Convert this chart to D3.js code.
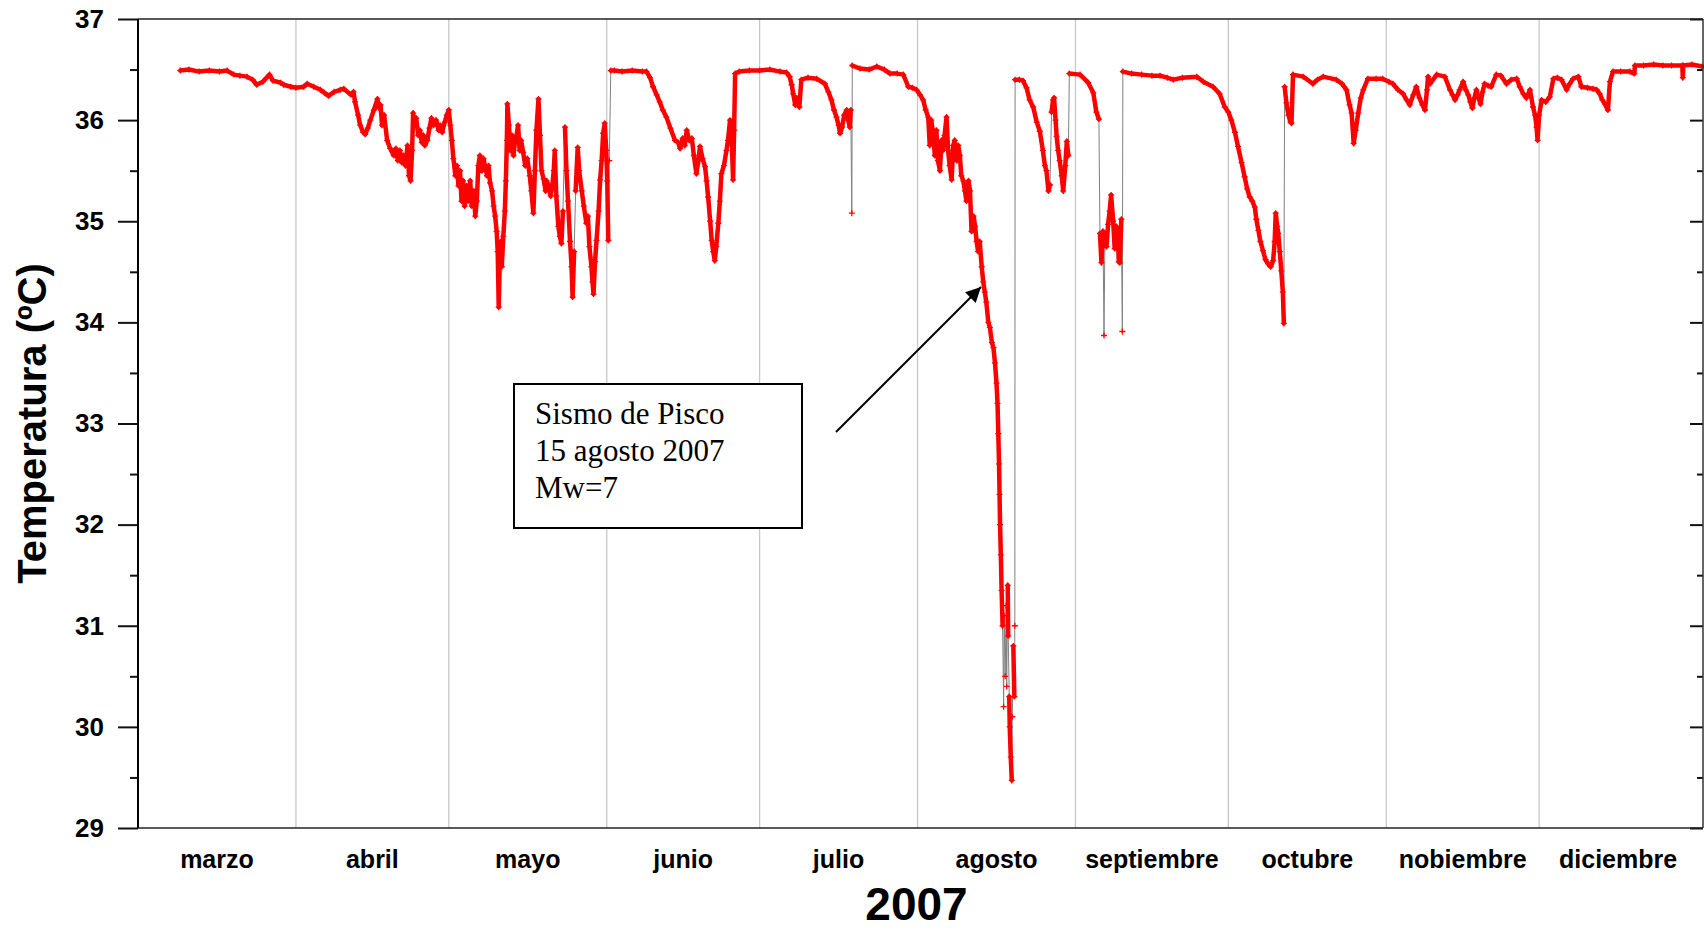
<!DOCTYPE html>
<html>
<head>
<meta charset="utf-8">
<script src="https://cdn.jsdelivr.net/npm/d3@7"></script>
<style>
body { margin: 0; background: #fff; }
svg text { font-family: "Liberation Sans", Arial, Helvetica, sans-serif; font-weight: bold; fill: #000; }
</style>
</head>
<body>
<svg id="chart" width="1704" height="931"></svg>
<script>
// dias transcurridos desde el 1 de marzo de 2007
dias = [8.3,10,12,14,16,17.5,18.8,20,21.4,22.5,23.3,24.5,25.8,26.5,28,28.6,30,
  31,32.5,33.2,34.5,35.8,36.6,37.4,38.5,39.7,40.4,41.8,42.3,42.6,43.2,43.6,44.2,44.6,45.1,45.6,46.3,47,47.3,47.6,47.9,48.3,48.9,49.5,50.2,50.6,51,51.4,51.8,52.1,52.5,52.9,53.2,53.5,53.8,54,54.3,54.6,55,55.3,55.7,56,56.3,56.8,57.2,57.6,58,58.5,59,59.3,59.7,60.2,60.6,
  61,61.3,61.6,61.9,62.3,62.6,62.9,63.2,63.5,63.8,64.1,64.5,64.8,65.2,65.5,65.9,66.2,66.5,66.8,67.1,67.5,67.8,68.1,68.5,68.8,69.1,69.5,69.8,70.1,70.4,70.6,70.8,71,71.2,71.4,71.7,72,72.2,72.4,72.5,72.8,73.1,73.4,73.7,74,74.3,74.6,74.9,75.2,75.6,76,76.4,76.9,77.2,77.6,77.9,78.2,78.6,78.9,79.2,79.6,80,80.2,80.6,81,81.3,81.6,81.8,82.1,82.5,82.8,83.1,83.4,83.8,84.1,84.4,84.8,85.1,85.3,85.6,85.9,86.3,86.6,87.1,87.5,88,88.3,88.6,89,89.2,89.4,89.7,90,90.4,90.7,91,91.3,91.6,91.9,92.1,92.3,92.5,92.8,
  93.5,95,97,99,99.8,100.5,101.1,101.8,102.4,103,103.7,104.5,105.4,106,106.4,106.9,107.3,107.7,108.2,108.7,109.1,109.6,110,110.3,110.8,111.3,111.6,111.9,112.3,112.6,112.9,113.2,113.5,113.9,114.2,114.5,115,115.5,115.8,116.2,116.5,116.8,117,117.2,
  118,120,122,124,126,127.3,127.9,128.3,128.6,129,129.3,129.8,130.2,131.5,133.2,134.8,135.5,136.1,136.6,137.1,137.5,137.8,138.2,138.6,139.1,139.4,139.7,139.9,140.1,140.2,141.7,143.5,145,146.5,147.6,149,150.2,151.2,152,152.8,
  153.5,154.1,154.6,155.1,155.4,155.7,156.1,156.4,156.7,157,157.4,157.7,158,158.3,158.7,159,159.3,159.7,160,160.3,160.7,161,161.3,161.6,162,162.3,162.6,163,163.3,163.6,164,164.3,164.6,164.9,165.2,165.6,165.9,166.2,166.5,166.9,167.2,167.6,167.9,168.2,168.5,168.7,168.85,169,169.1,169.2,169.35,169.5,169.7,169.9,170,170.2,170.4,170.5,170.7,170.8,171,171.1,171.3,171.5,171.6,171.8,172,172.1,172.15,
  173,173.7,174.4,175,175.7,176.4,177,177.6,178,178.3,178.7,179,179.3,179.6,179.8,180.1,180.3,180.6,180.9,181.3,181.6,182,182.3,182.6,182.8,
  184.9,186.5,187.5,188.1,188.6,188.8,189.1,189.4,189.6,189.8,190.1,190.4,190.7,191,191.4,191.7,192,192.3,192.5,192.7,193,193.2,193.3,195,197,199,200.6,
  202,203.2,205,207.8,209.1,211,212.3,213.3,214,214.6,215.3,215.9,216.6,217.2,217.7,218.2,218.7,219.2,219.5,219.9,220.3,220.8,221.3,221.8,222.3,222.8,223.1,223.3,223.6,223.8,224.1,224.4,224.7,224.9,225.05,225.4,225.8,226.2,226.4,226.7,228.7,230.6,231.5,232.6,235.2,236.3,237.2,237.8,238.2,238.6,239,239.5,240,240.5,241.4,243,
  244.3,245.5,246.3,247.3,248.3,249,249.6,250.3,250.9,251.5,252.1,252.6,253,253.2,253.6,254.9,256.5,257.5,258,258.5,259,259.4,260.1,260.6,261.1,261.5,261.9,262.3,262.7,263.1,263.5,263.9,264.3,265,265.6,266.6,267.5,268.6,269.5,270.6,271.2,271.9,272.5,273.2,273.8,274.2,274.5,274.7,275,
  275.5,276.3,277.1,277.8,278.6,279.4,280.4,281,281.7,282.7,283.3,284.5,285.6,286.3,286.9,287.4,287.9,288.5,288.9,289.5,291,292.8,293.7,293.8,295.5,297.5,299.3,301,303.1,303.2,303.3,305,307];

// temperatura del agua (ºC)
temp = [36.49,36.50,36.48,36.49,36.48,36.49,36.45,36.44,36.43,36.40,36.35,36.38,36.45,36.39,36.37,36.35,36.33,
  36.32,36.33,36.36,36.33,36.30,36.27,36.24,36.28,36.30,36.31,36.25,36.28,36.18,36.05,35.95,35.88,35.86,35.92,36.00,36.10,36.21,36.12,36.15,35.95,36.05,35.80,35.72,35.65,35.72,35.60,35.70,35.58,35.65,35.55,35.75,35.45,35.40,35.70,36.07,35.95,36.02,35.85,35.90,35.78,35.85,35.75,35.80,35.92,36.02,35.95,36.00,35.90,35.95,35.88,35.98,36.05,
  36.10,35.95,35.80,35.62,35.45,35.55,35.35,35.50,35.20,35.40,35.15,35.35,35.20,35.40,35.15,35.30,35.05,35.20,35.55,35.65,35.50,35.62,35.55,35.45,35.55,35.38,35.30,35.15,35.05,34.90,34.70,34.15,34.60,34.80,34.55,34.85,35.10,35.40,35.80,36.16,35.95,35.70,35.85,35.65,35.80,35.85,35.95,35.70,35.80,35.68,35.55,35.62,35.45,35.30,35.08,35.50,35.90,36.21,35.85,35.50,35.42,35.30,35.40,35.35,35.25,35.35,35.50,35.70,35.25,34.95,34.85,34.78,35.10,35.93,35.50,35.20,34.80,34.55,34.25,34.70,35.30,35.73,35.50,35.30,35.15,34.98,35.05,34.75,34.55,34.40,34.28,34.60,34.81,35.10,35.41,35.60,35.87,35.97,35.70,35.40,34.81,35.60,36.49,
  36.49,36.48,36.49,36.48,36.48,36.42,36.33,36.25,36.18,36.10,36.03,35.92,35.80,35.78,35.72,35.82,35.75,35.90,35.80,35.82,35.65,35.47,35.60,35.74,35.62,35.54,35.40,35.24,35.00,34.81,34.70,34.61,34.75,34.98,35.20,35.47,35.55,35.70,35.80,36.00,35.85,35.41,35.90,36.46,
  36.48,36.49,36.49,36.50,36.48,36.47,36.43,36.35,36.26,36.15,36.22,36.13,36.40,36.42,36.41,36.36,36.28,36.20,36.10,36.03,35.95,35.87,35.93,36.05,36.10,36.00,35.93,36.10,35.08,36.54,36.51,36.50,36.53,36.50,36.46,36.46,36.45,36.33,36.32,36.30,
  36.25,36.20,36.10,36.03,35.75,36.00,35.85,35.65,35.90,35.60,35.50,35.80,35.70,35.85,36.03,35.70,35.55,35.41,35.75,35.80,35.60,35.75,35.65,35.45,35.40,35.30,35.20,35.40,35.30,34.90,35.05,34.95,34.80,34.70,34.80,34.55,34.40,34.30,34.20,34.00,33.95,33.80,33.75,33.60,33.40,33.20,32.90,32.60,32.30,32.00,31.70,31.35,31.00,30.20,31.10,30.50,31.20,30.40,31.40,30.90,30.30,30.00,29.70,29.47,30.10,30.80,30.30,31.00,36.40,
  36.40,36.39,36.32,36.20,36.13,35.98,35.89,35.70,35.55,35.50,35.30,35.36,36.08,36.20,36.22,36.00,35.84,35.70,35.60,35.45,35.30,35.55,35.79,35.65,36.46,
  36.45,36.37,36.27,36.08,36.01,34.88,34.59,34.90,33.87,34.88,34.75,34.97,35.10,35.26,35.00,34.73,34.95,34.88,34.60,34.59,35.02,33.91,36.48,36.46,36.45,36.44,36.44,
  36.42,36.40,36.42,36.43,36.38,36.33,36.26,36.13,36.08,36.00,35.88,35.74,35.58,35.44,35.32,35.24,35.20,35.14,35.02,34.91,34.80,34.71,34.62,34.58,34.55,34.61,34.80,35.08,34.95,34.88,34.70,34.51,34.30,33.99,36.33,36.17,36.05,35.98,35.97,36.45,36.43,36.36,36.40,36.43,36.40,36.36,36.30,36.15,36.07,35.77,35.90,36.07,36.22,36.30,36.41,36.41,
  36.41,36.38,36.36,36.30,36.26,36.20,36.15,36.25,36.33,36.22,36.15,36.10,36.30,36.43,36.36,36.45,36.43,36.30,36.25,36.20,36.25,36.30,36.38,36.30,36.25,36.18,36.12,36.22,36.30,36.22,36.16,36.28,36.36,36.34,36.33,36.45,36.44,36.36,36.40,36.41,36.33,36.26,36.22,36.30,36.13,36.05,35.93,35.80,36.05,
  36.20,36.18,36.23,36.41,36.42,36.40,36.30,36.36,36.41,36.43,36.33,36.32,36.31,36.30,36.26,36.20,36.16,36.10,36.38,36.48,36.48,36.48,36.46,36.54,36.54,36.55,36.54,36.54,36.54,36.42,36.54,36.55,36.53];

meses = ['marzo','abril','mayo','junio','julio','agosto','septiembre','octubre','nobiembre','diciembre'];
ticksY = [29,30,31,32,33,34,35,36,37];
ticksMenores = [29.5,30.5,31.5,32.5,33.5,34.5,35.5,36.5];
nota = ['Sismo de Pisco','15 agosto 2007','Mw=7'];
anio = '2007';
tituloY = 'Temperatura (ºC)';

var inicio = new Date(2007, 2, 1);
var fin = new Date(2008, 0, 2, 4);
var xIzq = 138, xDer = 1703, ySup = 19, yInf = 828;

svg = d3.select('#chart');

x = d3.scaleTime().domain([inicio, fin]).range([xIzq, xDer]);
y = d3.scaleLinear().domain([29, 37]).range([yInf, ySup]);

var puntos = dias.map(function(d, i) {
  return { fecha: new Date(inicio.getTime() + d * 864e5), t: temp[i] };
});

// lineas verticales de cada mes
var inicios = d3.timeMonth.range(new Date(2007, 3, 1), new Date(2008, 0, 1));
svg.selectAll('.grid').data(inicios).enter()
  .append('line')
  .attr('class', 'grid')
  .attr('x1', function(d) { return x(d) }).attr('x2', function(d) { return x(d) })
  .attr('y1', ySup).attr('y2', yInf)
  .attr('stroke', '#c8c8c8').attr('stroke-width', 1.3);

// nombres de los meses, centrados en cada mes
var todos = d3.timeMonth.range(inicio, new Date(2008, 0, 1));
svg.selectAll('.mes').data(todos).enter()
  .append('text')
  .attr('class', 'mes')
  .attr('x', function(d) { return (x(d) + x(d3.timeMonth.offset(d, 1))) / 2 })
  .attr('y', 868)
  .attr('text-anchor', 'middle')
  .style('font-size', '25px')
  .text(function(d, i) { return meses[i] });

// serie: linea gris y cruces rojas
var linea = d3.line().x(function(d) { return x(d.fecha) }).y(function(d) { return y(d.t) });
svg.append('path').datum(puntos)
  .attr('d', linea)
  .attr('fill', 'none').attr('stroke', '#808080').attr('stroke-width', 1);

var tramos = '';
for (var i = 1; i < puntos.length; i++) {
  var a = puntos[i - 1], b = puntos[i];
  if (Math.abs(y(a.t) - y(b.t)) <= 60) {
    tramos += 'M' + x(a.fecha) + ',' + y(a.t) + 'L' + x(b.fecha) + ',' + y(b.t);
  }
}
svg.append('path')
  .attr('d', tramos)
  .attr('fill', 'none').attr('stroke', '#ff0000').attr('stroke-width', 4.5)
  .attr('stroke-linecap', 'round').attr('stroke-linejoin', 'round');

svg.selectAll('.cruz').data(puntos).enter()
  .append('path')
  .attr('class', 'cruz')
  .attr('transform', function(d) { return 'translate(' + x(d.fecha) + ',' + y(d.t) + ')' })
  .attr('d', 'M-3,0H3M0,-3V3')
  .attr('stroke', '#ff0000').attr('stroke-width', 1.3);

// ejes
var ejeIzq = svg.append('g').attr('transform', 'translate(' + xIzq + ',0)')
  .call(d3.axisLeft(y).tickValues(ticksY).tickSize(20).tickPadding(14).tickFormat(d3.format('d')));
svg.append('g').attr('transform', 'translate(' + xIzq + ',0)')
  .call(d3.axisLeft(y).tickValues(ticksMenores).tickSize(8).tickFormat(''));
svg.append('g').attr('transform', 'translate(' + xDer + ',0)')
  .call(d3.axisRight(y).tickValues(ticksY).tickSize(-13).tickFormat(''));
svg.append('g').attr('transform', 'translate(' + xDer + ',0)')
  .call(d3.axisRight(y).tickValues(ticksMenores).tickSize(-6).tickFormat(''));
svg.selectAll('.domain').remove();
svg.selectAll('.tick line').attr('stroke', '#111').attr('stroke-width', 2);
ejeIzq.selectAll('.tick text')
  .style('font-size', '26px')
  .style('font-family', '"Liberation Sans", Arial, sans-serif')
  .style('font-weight', 'bold')
  .attr('fill', '#000');

// marco
svg.append('line').attr('x1', xIzq).attr('x2', xIzq).attr('y1', ySup).attr('y2', yInf)
  .attr('stroke', '#000').attr('stroke-width', 2);
svg.append('line').attr('x1', xDer).attr('x2', xDer).attr('y1', ySup).attr('y2', yInf)
  .attr('stroke', '#333').attr('stroke-width', 1.5);
svg.append('line').attr('x1', xIzq).attr('x2', xDer).attr('y1', ySup).attr('y2', ySup)
  .attr('stroke', '#222').attr('stroke-width', 1.5);
svg.append('line').attr('x1', xIzq).attr('x2', xDer).attr('y1', yInf).attr('y2', yInf)
  .attr('stroke', '#222').attr('stroke-width', 1.5);

// titulos
svg.append('text')
  .attr('x', (xIzq + xDer) / 2 - 4).attr('y', 920)
  .attr('text-anchor', 'middle')
  .style('font-size', '46px')
  .text(anio);

svg.append('text')
  .attr('transform', 'translate(46,' + (yInf + ySup) / 2 + ') rotate(-90)')
  .attr('text-anchor', 'middle')
  .style('font-size', '40px')
  .text(tituloY);

// recuadro del sismo
svg.append('rect')
  .attr('x', 514).attr('y', 384).attr('width', 288).attr('height', 144)
  .attr('fill', '#fff').attr('stroke', '#000').attr('stroke-width', 2);
svg.selectAll('.nota').data(nota).enter()
  .append('text')
  .attr('class', 'nota')
  .attr('x', 535)
  .attr('y', function(d, i) { return 424 + i * 37 })
  .style('font-family', '"Liberation Serif", "Times New Roman", serif')
  .style('font-weight', 'normal')
  .style('font-size', '31px')
  .text(function(d) { return d });

// flecha hacia la caida del 15 de agosto
svg.append('defs').append('marker')
  .attr('id', 'punta')
  .attr('viewBox', '0 0 10 10').attr('refX', 10).attr('refY', 5)
  .attr('markerWidth', 10).attr('markerHeight', 7.5).attr('markerUnits', 'strokeWidth')
  .attr('orient', 'auto')
  .append('path').attr('d', 'M0,0L10,5L0,10z').attr('fill', '#000');
svg.append('line')
  .attr('x1', 836).attr('y1', 432).attr('x2', 981).attr('y2', 287)
  .attr('stroke', '#000').attr('stroke-width', 2)
  .attr('marker-end', 'url(#punta)');
</script>
</body>
</html>
